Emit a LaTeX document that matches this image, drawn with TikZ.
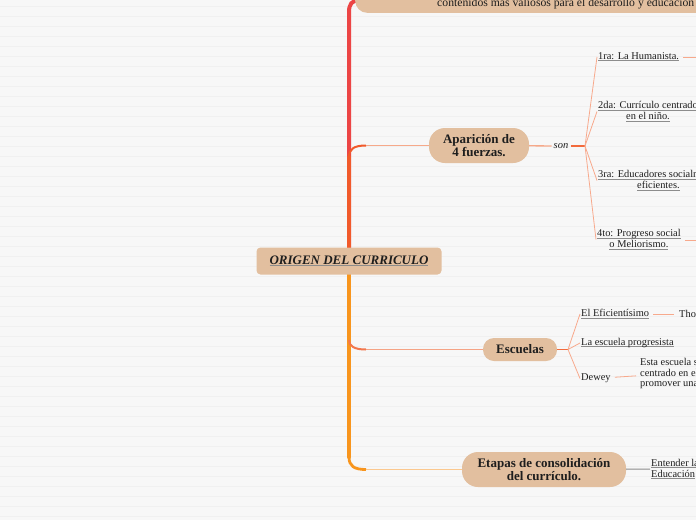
\documentclass[tikz,border=0pt]{standalone}
\usepackage{fontspec}
\setmainfont{Liberation Serif}
\definecolor{bgc}{HTML}{F7F7F7}
\definecolor{bgl}{HTML}{F0F0F0}
\definecolor{tan}{HTML}{E2BF9F}
\definecolor{cRed}{HTML}{EC4545}
\definecolor{cOR}{HTML}{F15A2B}
\definecolor{cOrange}{HTML}{F8951D}
\definecolor{cAp}{HTML}{F6A98A}
\definecolor{cEsc}{HTML}{F2774E}
\definecolor{cEscL}{HTML}{F5A385}
\definecolor{cEtL}{HTML}{FBC88E}
\definecolor{cFan}{HTML}{F7A98C}
\definecolor{cHub}{HTML}{F26A3C}
\definecolor{txt}{HTML}{1E1E1E}
\definecolor{ulc}{HTML}{8C8C8C}
\newcommand\ulx[1]{\leavevmode\setbox0\hbox{#1}\rlap{\textcolor{ulc}{\rule[-1.9pt]{\wd0}{1pt}}}\box0}
\pgfdeclarelayer{bg}
\pgfsetlayers{bg,main}
\tikzset{
  bgline/.style={draw=bgl, line width=0.7},
  trunk/.style={line width=4, line cap=round},
  bendw/.style={line width=2},
  branch/.style={line width=1.3},
  fan/.style={draw=cFan, line width=0.8},
  hub/.style={draw=cHub, line width=1.4},
  pill/.style={fill=tan, inner sep=0, align=center, text=txt,
    font=\bfseries\fontsize{13}{13.5}\selectfont},
  rootbox/.style={fill=tan, rounded corners=4, inner sep=0,
    minimum width=185, minimum height=27, text=txt,
    font=\bfseries\itshape\fontsize{13}{14}\selectfont},
  leaf/.style={anchor=west, inner sep=1, align=center, text=txt,
    font=\fontsize{10.4}{11}\selectfont},
}
\begin{document}
\begin{tikzpicture}[x=1pt,y=-1pt]
\useasboundingbox (0,0) rectangle (696,520);
\clip (0,0) rectangle (696,520);

% nodes
\node[fill=tan, rounded corners=12, minimum width=400, minimum height=40,
  anchor=south west, inner sep=0] (top) at (355,13) {};
\node[anchor=base west, inner sep=0, text=txt, font=\fontsize{11.7}{13}\selectfont]
  (toptext) at (437,6.5) {contenidos más valiosos para el desarrollo y educación};

\coordinate (r1) at (349,12);
\coordinate (r2) at (359,0);
\coordinate (a1) at (349,157);
\coordinate (a2) at (366,145.5);
\coordinate (b1) at (349,340);
\coordinate (b2) at (366,349.5);
\coordinate (d1) at (349,457);
\coordinate (d2) at (366,469.5);

\node[rootbox] (root) at (349,261) {\ulx{ORIGEN DEL CURRICULO}};

\begin{pgfonlayer}{bg}
\fill[bgc] (0,0) rectangle (696,520);
\foreach \y in {6,16,...,516} \draw[bgline] (0,\y) -- (696,\y);
% trunk
\draw[trunk, cRed] (root.center) -- (r1) .. controls (349,4) and (352,0.5) .. (r2);
\draw[trunk, cOR] (root.center) -- (a1);
\draw[bendw, cOR] (a1) .. controls (349,149) and (354,145.5) .. (a2);
\draw[trunk, cOrange] (root.center) -- (d1);
\draw[line width=2.8, cOrange] (d1) .. controls (349,466) and (354,469.5) .. (d2);
\draw[bendw, cEsc] (b1) .. controls (349,346) and (354,349.5) .. (b2);
\end{pgfonlayer}

% main nodes
\node[pill, rounded corners=16, minimum width=100, minimum height=35] (apar) at (479,145.5) {Aparición de\\4 fuerzas.};
\node[pill, rounded corners=11, minimum width=74, minimum height=23] (esc) at (520,349.5) {Escuelas};
\node[pill, rounded corners=16, minimum width=164, minimum height=35] (etap) at (544,469.5) {Etapas de consolidación\\del currículo.};

\draw[branch, cAp] (a2) -- (apar);
\draw[branch, cEscL] (b2) -- (esc);
\draw[branch, cEtL] (d2) -- (etap);

% Aparicion children
\node[inner sep=2, text=txt, font=\itshape\fontsize{10.5}{11}\selectfont] (son) at (561,146) {son};
\coordinate (h1) at (585,146);
\draw[branch, cAp] (apar) -- (son);
\draw[hub] (son.east) -- (h1);

\node[leaf] (c1) at (597,57) {\ulx{1ra: La Humanista.}};
\node[leaf] (c2) at (597,111.5) {\ulx{2da: Currículo centrado}\\\ulx{en el niño.}};
\node[leaf] (c3) at (597,180.5) {\ulx{3ra: Educadores socialmente}\\\ulx{eficientes.}};
\node[leaf] (c4) at (596,239.5) {\ulx{4to: Progreso social}\\\ulx{o Meliorismo.}};
\draw[fan] (h1) -- (c1.west);
\draw[fan] (h1) -- (c2.west);
\draw[fan] (h1) -- (c3.west);
\draw[fan] (h1) -- (c4.west);
\coordinate (c1r) at (705,57);
\coordinate (c4r) at (705,240);
\draw[fan, shorten <=3] (c1.east) -- (c1r);
\draw[fan, shorten <=3] (c4.east |- c4r) -- (c4r);

% Escuelas children
\coordinate (h2) at (568,349.5);
\draw[hub] (esc.east) -- (h2);
\node[leaf] (e1) at (580,314) {\ulx{El Eficientísimo}};
\node[leaf] (e2) at (580,343) {\ulx{La escuela progresista}};
\node[leaf] (e3) at (580,378.5) {Dewey};
\draw[fan] (h2) -- (e1.west);
\draw[fan] (h2) -- (e2.west);
\draw[fan] (h2) -- (e3.west);
\node[leaf] (e1b) at (678,314) {Thorndike};
\draw[fan, shorten <=3, shorten >=4] (e1) -- (e1b);
\node[leaf, align=left, font=\fontsize{10.4}{10.5}\selectfont] (e3b) at (639,373.5) {Esta escuela se\\centrado en el\\promover una};
\draw[fan, shorten <=3, shorten >=3] (e3) -- (e3b);

% Etapas child
\node[leaf, align=left] (et1) at (650,469) {\ulx{Entender la}\\\ulx{Educación}};
\draw[line width=1, draw=gray!90] (etap) -- (et1);
\end{tikzpicture}
\end{document}
